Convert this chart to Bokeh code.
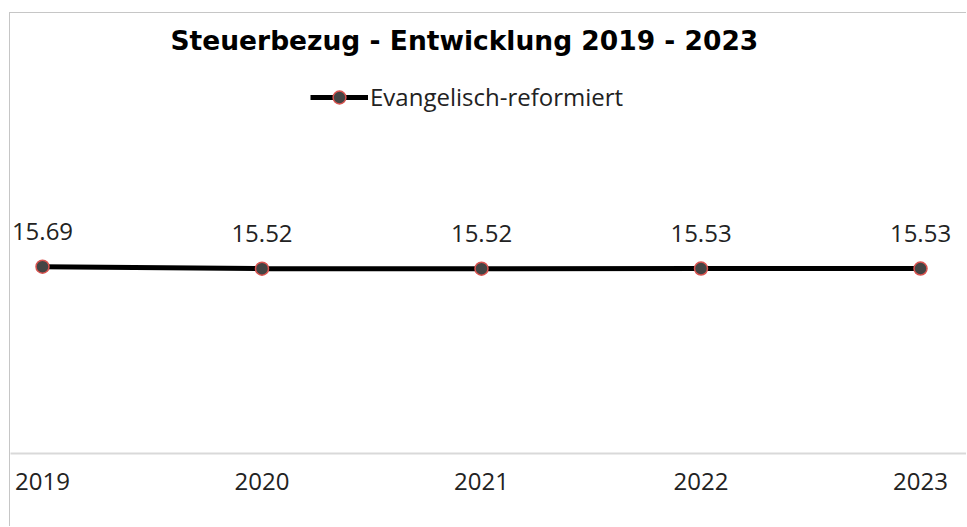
from bokeh.plotting import figure
from bokeh.models import ColumnDataSource, LabelSet, FixedTicker, Legend, LegendItem
from bokeh.core.properties import value
from bokeh.embed import file_html
from bokeh.resources import INLINE

years = [2019, 2020, 2021, 2022, 2023]
values = [15.69, 15.52, 15.52, 15.53, 15.53]
value_labels = ["15.69", "15.52", "15.52", "15.53", "15.53"]
series_name = "Evangelisch-reformiert"
title_text = "Steuerbezug - Entwicklung 2019 - 2023"

FONT = "Open Sans"

src = ColumnDataSource(dict(x=years, y=values, lab=value_labels))

p = figure(width=957, height=514, output_backend="svg", toolbar_location=None,
           x_range=(2018.8542, 2023.2141), y_range=(0, 32.83),
           min_border_left=0, min_border_right=0, min_border_top=49, min_border_bottom=74,
           title=title_text)
# chart border on the left and top edges, as in the reference
p.styles = {"border-left": "1px solid #c6c6c6", "border-top": "1px solid #c6c6c6",
            "margin-left": "9px", "margin-top": "12px"}

p.title.align = "left"
p.title.offset = 160
p.title.standoff = 13
p.title.text_font = "DejaVu Sans"
p.title.text_font_style = "bold"
p.title.text_font_size = "26.5px"
p.title.text_color = "#000000"

p.outline_line_color = None
p.background_fill_color = "white"
p.border_fill_color = "white"
p.yaxis.visible = False
p.xgrid.grid_line_color = None
p.ygrid.grid_line_color = None

xa = p.xaxis[0]
xa.ticker = FixedTicker(ticks=years)
xa.axis_line_color = "#d9d9d9"
xa.axis_line_width = 2
xa.major_tick_line_color = None
xa.minor_tick_line_color = None
xa.major_label_text_font = FONT
xa.major_label_text_font_size = "24px"
xa.major_label_text_color = "#222222"
xa.major_label_standoff = 13

line = p.line("x", "y", source=src, line_color="black", line_width=5)
pts = p.scatter("x", "y", source=src, size=13, fill_color="#444444",
                line_color="#d9534f", line_width=1.5)

labels = LabelSet(x="x", y="y", text="lab", source=src, y_offset=27,
                  text_align="center", text_baseline="alphabetic",
                  text_font=value(FONT), text_font_size=value("24px"),
                  text_color="#222222")
p.add_layout(labels)

legend = Legend(items=[LegendItem(label=series_name, renderers=[line, pts])],
                location=(300, 340), orientation="horizontal",
                glyph_width=58, glyph_height=32, label_standoff=2,
                label_text_font=FONT, label_text_font_size="24px",
                label_text_color="#222222", border_line_color=None,
                background_fill_alpha=0, padding=0, margin=0)
p.add_layout(legend, "center")

open("out.html", "w").write(file_html(p, INLINE))
